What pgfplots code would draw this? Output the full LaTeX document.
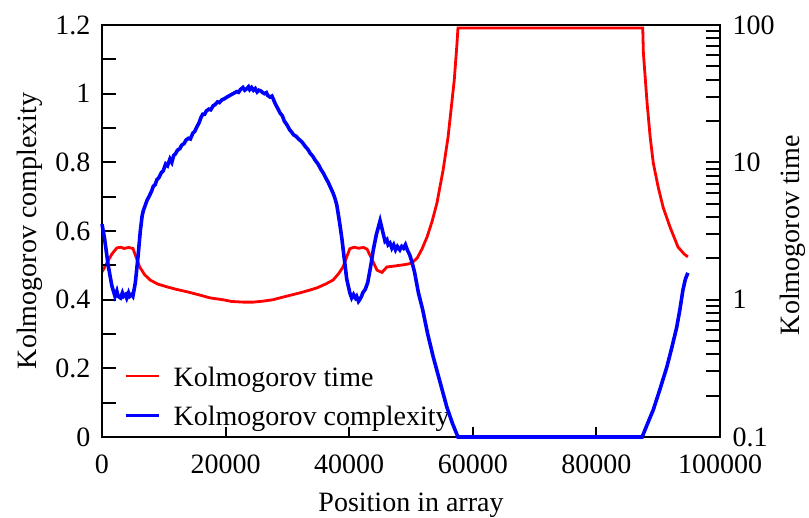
\documentclass[border=0pt]{standalone}
\usepackage{fontspec}
\setmainfont{Liberation Serif}
\usepackage{pgfplots}
\pgfplotsset{compat=1.18}
\newcommand{\myfont}{\fontsize{14bp}{17bp}\selectfont}
\begin{document}
\begin{tikzpicture}
\pgfplotsset{
  common/.style={
    scale only axis, width=309bp, height=206bp,
    xmin=0, xmax=100000,
    font=\myfont,
    tick label style={font=\myfont},
    label style={font=\myfont},
    scaled x ticks=false,
    tick style={line width=1bp, black},
    axis line style={line width=1bp},
    tick align=inside,
    major tick length=7bp, minor tick length=7bp,
  }
}
% ---------------- red: Kolmogorov time (right, log) ----------------
\begin{axis}[common,
  ymode=log, ymin=0.1, ymax=100,
  axis x line=none, axis y line*=right,
  xtick=\empty,
  ytick={0.1,1,10,100}, yticklabels={0.1,1,10,100},
  yticklabel shift=2.8bp,
  ylabel={Kolmogorov time},
  every axis y label/.style={at={(axis description cs:1.117,0.49)}, rotate=90, anchor=center},
  legend style={at={(axis description cs:0.035,0.007)}, anchor=south west, draw=none, fill=none,
    font=\myfont, inner sep=0pt, row sep=3.5bp, column sep=4bp, nodes={inner sep=2.5bp}},
  legend cell align=left,
  legend image code/.code={\draw[#1] (0bp,1bp) -- (16.5bp,1bp);},
]
\addplot[red, line width=1.4bp] coordinates {
(0,1.59) (800,1.85) (1600,2.15) (2400,2.38) (3000,2.41) (3600,2.36) (4300,2.40) (5000,2.36)
(5500,2.05) (6100,1.73) (6900,1.52) (7800,1.39) (9000,1.30) (10500,1.24) (12000,1.19)
(13800,1.14) (15500,1.09) (17500,1.03) (19500,1.00) (21000,0.97) (22800,0.96) (24500,0.96)
(26000,0.975) (27700,1.0) (29500,1.05) (32000,1.12) (33500,1.17) (34800,1.22) (36200,1.30)
(37400,1.39) (38300,1.55) (39000,1.73) (39600,2.05) (40100,2.35) (40800,2.41) (41500,2.37)
(42300,2.40) (42900,2.33) (43600,2.0) (44500,1.64) (45300,1.58) (46100,1.73) (47000,1.75)
(48200,1.78) (49000,1.80) (49800,1.83) (50400,1.90) (51000,2.01) (51800,2.35) (52600,2.86)
(53400,3.7) (54200,5.06) (55200,8.8) (56000,15.3) (56600,27.1) (57000,39.8) (57400,69)
(57600,95) (87500,95) (87600,62.7) (88200,27.1) (88700,15.3) (89200,9.9) (90000,6.6)
(90800,4.7) (91900,3.39) (93200,2.42) (94200,2.15) (94800,2.05)
};
\addlegendentry{Kolmogorov time}
\addlegendimage{blue, line width=1.8bp}
\addlegendentry{Kolmogorov complexity}
\end{axis}
% ---------------- blue: Kolmogorov complexity (left) ----------------
\begin{axis}[common,
  clip=false,
  ymin=0, ymax=1.2,
  ytick={0,0.2,0.4,0.6,0.8,1,1.2},
  yticklabels={0,0.2,0.4,0.6,0.8,1,1.2},
  minor ytick={0.1,0.3,0.5,0.7,0.9,1.1},
  xtick={0,20000,40000,60000,80000,100000},
  xticklabels={0,20000,40000,60000,80000,100000},
  xtick pos=bottom, ytick pos=left,
  xtick style={/pgfplots/major tick length=5bp},
  yticklabel shift=2.3bp,
  xticklabel shift=5.3bp,
  xlabel={Position in array},
  ylabel={Kolmogorov complexity},
  every axis x label/.style={at={(axis description cs:0.5,-0.181)}, anchor=base},
  every axis y label/.style={at={(axis description cs:-0.117,0.5)}, rotate=90, anchor=center},
]
\addplot[blue, line width=1.8bp] coordinates {
(0,0.62) (400,0.58) (1000,0.50) (1600,0.44) (2100,0.41) (2400,0.425) (2600,0.41) (3000,0.405)
(3300,0.42) (3500,0.41) (3800,0.415) (4000,0.405) (4300,0.42) (4500,0.41) (4800,0.415) (5000,0.41)
(5400,0.45) (5800,0.52) (6200,0.60) (6500,0.645) (6700,0.66) (7000,0.675) (7300,0.69) (7600,0.70)
(8000,0.715) (8300,0.73) (8600,0.735) (8900,0.75) (9200,0.755) (9600,0.77) (9900,0.775)
(10300,0.795) (10600,0.79) (11000,0.81) (11300,0.80) (11600,0.82) (11900,0.825) (12200,0.835)
(12600,0.84) (12900,0.85) (13300,0.855) (13600,0.865) (14000,0.87) (14300,0.868) (14700,0.885)
(15000,0.89) (15400,0.905) (15700,0.915) (16000,0.93) (16300,0.94) (16600,0.94) (16900,0.95)
(17300,0.955) (17600,0.953) (18000,0.965) (18300,0.968) (18700,0.976) (19000,0.974) (19400,0.982)
(19800,0.985) (20200,0.99) (20600,0.994) (21000,0.998) (21400,1.002) (21800,1.006) (22100,1.004)
(22400,1.012) (22800,1.018) (23100,1.01) (23400,1.014) (23700,1.02) (23900,1.012) (24200,1.018)
(24500,1.01) (24800,1.015) (25100,1.005) (25400,1.01) (25700,1.008) (26000,1.003) (26300,1.0)
(26600,1.003) (26800,0.995) (27200,0.99) (27500,0.993) (27700,0.985) (28000,0.972) (28200,0.965)
(28500,0.955) (28800,0.944) (29200,0.935) (29500,0.92) (29900,0.91) (30400,0.894) (30700,0.888)
(31000,0.88) (31400,0.876) (31800,0.868) (32200,0.862) (32500,0.856) (32900,0.846) (33300,0.838)
(33700,0.826) (34100,0.818) (34500,0.806) (35000,0.794) (35400,0.78) (35800,0.769) (36200,0.755)
(36600,0.742) (37000,0.726) (37400,0.71) (37700,0.695) (38000,0.675) (38400,0.63) (38800,0.58)
(39200,0.52) (39600,0.46) (40100,0.42) (40400,0.405) (40700,0.415) (41000,0.405) (41200,0.41)
(41500,0.395) (41700,0.40) (42000,0.41) (42200,0.42) (42600,0.43) (43000,0.45) (43500,0.50)
(43900,0.545) (44400,0.59) (45000,0.63) (45400,0.60) (45800,0.57) (46100,0.575) (46300,0.56)
(46600,0.565) (46900,0.55) (47200,0.56) (47500,0.545) (47800,0.555) (48200,0.545) (48500,0.555)
(48800,0.55) (49100,0.56) (49400,0.545) (49800,0.53) (50200,0.507) (50600,0.478) (51200,0.42)
(51900,0.37) (52700,0.30) (53600,0.233) (54700,0.16) (55800,0.087) (56700,0.04) (57600,0.0)
(87400,0.0) (88300,0.04) (89200,0.079) (90300,0.14) (91400,0.204) (92200,0.26) (93000,0.32)
(93500,0.37) (94000,0.428) (94400,0.46) (94800,0.478)
};
\end{axis}
\pgfresetboundingbox
\path[use as bounding box] (-51bp,-40.5bp) rectangle (353.5bp,218.5bp);
\end{tikzpicture}
\end{document}
